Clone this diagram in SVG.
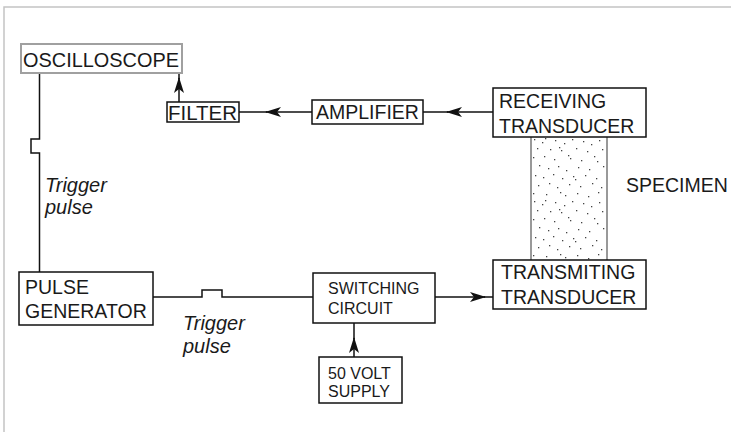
<svg xmlns="http://www.w3.org/2000/svg" width="731" height="432" viewBox="0 0 731 432">
<style>
.box{fill:#fff;stroke:#111;stroke-width:1.5}
.t{font-family:"Liberation Sans",Arial,sans-serif;font-size:19.5px;fill:#1a1a1a}
.s{font-family:"Liberation Sans",Arial,sans-serif;font-size:16px;fill:#1a1a1a}
.i{font-family:"Liberation Sans",Arial,sans-serif;font-size:20px;font-style:italic;fill:#1a1a1a}
.ln{fill:none;stroke:#111;stroke-width:1.5}
</style>
<defs>
<marker id="ah" markerUnits="userSpaceOnUse" markerWidth="16" markerHeight="10" refX="15" refY="5" orient="auto">
<path d="M0,0 L16,5 L0,10 L4,5 z" fill="#111"/>
</marker>
<pattern id="dots" patternUnits="userSpaceOnUse" x="531" y="137" width="76" height="62">
<g fill="#444">
<rect x="3" y="2" width="1.3" height="1.3"/><rect x="11" y="5" width="1.3" height="1.3"/><rect x="14" y="1" width="1.3" height="1.3"/><rect x="24" y="3" width="1.3" height="1.3"/><rect x="33" y="6" width="1.3" height="1.3"/><rect x="41" y="2" width="1.3" height="1.3"/><rect x="52" y="4" width="1.3" height="1.3"/><rect x="60" y="7" width="1.3" height="1.3"/><rect x="68" y="3" width="1.3" height="1.3"/>
<rect x="6" y="11" width="1.3" height="1.3"/><rect x="19" y="12" width="1.3" height="1.3"/><rect x="28" y="10" width="1.3" height="1.3"/><rect x="30" y="13" width="1.3" height="1.3"/><rect x="45" y="11" width="1.3" height="1.3"/><rect x="56" y="14" width="1.3" height="1.3"/><rect x="71" y="12" width="1.3" height="1.3"/>
<rect x="2" y="20" width="1.3" height="1.3"/><rect x="13" y="19" width="1.3" height="1.3"/><rect x="23" y="22" width="1.3" height="1.3"/><rect x="37" y="18" width="1.3" height="1.3"/><rect x="39" y="21" width="1.3" height="1.3"/><rect x="50" y="23" width="1.3" height="1.3"/><rect x="63" y="19" width="1.3" height="1.3"/><rect x="66" y="24" width="1.3" height="1.3"/>
<rect x="8" y="28" width="1.3" height="1.3"/><rect x="17" y="31" width="1.3" height="1.3"/><rect x="27" y="29" width="1.3" height="1.3"/><rect x="35" y="33" width="1.3" height="1.3"/><rect x="47" y="30" width="1.3" height="1.3"/><rect x="58" y="32" width="1.3" height="1.3"/><rect x="72" y="29" width="1.3" height="1.3"/>
<rect x="4" y="38" width="1.3" height="1.3"/><rect x="12" y="40" width="1.3" height="1.3"/><rect x="22" y="37" width="1.3" height="1.3"/><rect x="31" y="41" width="1.3" height="1.3"/><rect x="42" y="39" width="1.3" height="1.3"/><rect x="44" y="42" width="1.3" height="1.3"/><rect x="54" y="38" width="1.3" height="1.3"/><rect x="65" y="41" width="1.3" height="1.3"/>
<rect x="7" y="48" width="1.3" height="1.3"/><rect x="18" y="46" width="1.3" height="1.3"/><rect x="26" y="50" width="1.3" height="1.3"/><rect x="38" y="47" width="1.3" height="1.3"/><rect x="49" y="49" width="1.3" height="1.3"/><rect x="61" y="46" width="1.3" height="1.3"/><rect x="70" y="50" width="1.3" height="1.3"/>
<rect x="2" y="56" width="1.3" height="1.3"/><rect x="15" y="57" width="1.3" height="1.3"/><rect x="29" y="55" width="1.3" height="1.3"/><rect x="34" y="58" width="1.3" height="1.3"/><rect x="46" y="56" width="1.3" height="1.3"/><rect x="57" y="59" width="1.3" height="1.3"/><rect x="67" y="55" width="1.3" height="1.3"/>
</g>
</pattern>
</defs>
<rect width="731" height="432" fill="#fff"/>
<path d="M4,432 V7 H731" fill="none" stroke="#c4c4c4" stroke-width="1.5"/>

<g id="specimen">
<rect x="531" y="137" width="76" height="123" fill="url(#dots)"/>
<line x1="531" y1="137" x2="531" y2="260" stroke="#777" stroke-width="1.5"/>
<line x1="607" y1="137" x2="607" y2="260" stroke="#777" stroke-width="1.5"/>
<text class="t" x="626" y="192">SPECIMEN</text>
</g>

<g id="connectors">
<line class="ln" x1="493" y1="112" x2="447" y2="112" marker-end="url(#ah)"/>
<line class="ln" x1="448" y1="112" x2="423" y2="112"/>
<line class="ln" x1="312" y1="112" x2="266" y2="112" marker-end="url(#ah)"/>
<line class="ln" x1="267" y1="112" x2="239" y2="112"/>
<line class="ln" x1="179" y1="102" x2="179" y2="78" marker-end="url(#ah)"/>
<line class="ln" x1="179" y1="79" x2="179" y2="73"/>
<path class="ln" d="M39.5,73 V139 H31 V153 H39.5 V272"/>
<path class="ln" d="M153,297 H202 V290 H222 V297 H313"/>
<line class="ln" x1="435" y1="297" x2="485" y2="297" marker-end="url(#ah)"/>
<line class="ln" x1="484" y1="297" x2="493" y2="297"/>
<line class="ln" x1="354" y1="357" x2="354" y2="338" marker-end="url(#ah)"/>
<line class="ln" x1="354" y1="339" x2="354" y2="323"/>
</g>

<g id="trigger-left">
<text class="i" x="45" y="192">Trigger</text>
<text class="i" x="45" y="214">pulse</text>
</g>
<g id="trigger-bottom">
<text class="i" x="183" y="330">Trigger</text>
<text class="i" x="183" y="353">pulse</text>
</g>

<g id="oscilloscope">
<rect x="21" y="44" width="161" height="29" fill="#fff" stroke="#a0a0a0" stroke-width="2"/>
<text class="t" x="23" y="67" textLength="156" lengthAdjust="spacingAndGlyphs">OSCILLOSCOPE</text>
</g>
<g id="filter">
<rect class="box" x="167" y="102" width="72" height="20"/>
<text class="t" x="168" y="120" textLength="69" lengthAdjust="spacingAndGlyphs">FILTER</text>
</g>
<g id="amplifier">
<rect class="box" x="312" y="100" width="111" height="24"/>
<text class="t" x="316" y="119">AMPLIFIER</text>
</g>
<g id="receiving">
<rect class="box" x="493" y="88" width="153" height="49"/>
<text class="t" x="499" y="108">RECEIVING</text>
<text class="t" x="499" y="133">TRANSDUCER</text>
</g>
<g id="transmitting">
<rect class="box" x="493" y="260" width="153" height="49"/>
<text class="t" x="501" y="279">TRANSMITING</text>
<text class="t" x="501" y="304">TRANSDUCER</text>
</g>
<g id="pulse-generator">
<rect class="box" x="19" y="272" width="134" height="53"/>
<text class="t" x="25" y="294">PULSE</text>
<text class="t" x="25" y="318">GENERATOR</text>
</g>
<g id="switching">
<rect class="box" x="313" y="273" width="122" height="50"/>
<text class="s" x="328" y="294">SWITCHING</text>
<text class="s" x="328" y="314">CIRCUIT</text>
</g>
<g id="supply">
<rect class="box" x="319" y="357" width="83" height="46"/>
<text class="s" x="328" y="379">50 VOLT</text>
<text class="s" x="328" y="397">SUPPLY</text>
</g>
</svg>
